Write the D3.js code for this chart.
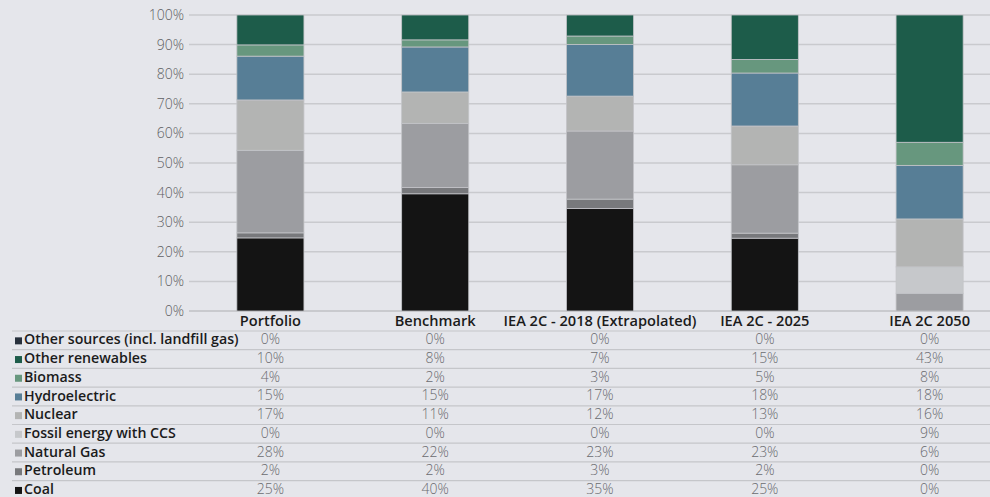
<!DOCTYPE html>
<html>
<head>
<meta charset="utf-8">
<script src="https://cdn.jsdelivr.net/npm/d3@7"></script>
<style>
  body { margin: 0; background: #e5e6eb; }
  svg { display: block; }
  .tick-label { font-family: "Open Sans", Lato, sans-serif; font-weight: 300; font-size: 14px; fill: #5e5f63; }
  .cat-label { font-family: "Open Sans", Lato, sans-serif; font-weight: 600; font-size: 14.6px; fill: #1b1b1b; }
  .row-label { font-family: "Open Sans", Lato, sans-serif; font-weight: 600; font-size: 14.2px; fill: #1b1b1b; }
  .cell { font-family: "Open Sans", Lato, sans-serif; font-weight: 300; font-size: 14px; fill: #6a6b6f; }
</style>
</head>
<body>
<div id="viz"></div>
<script>
var categories = ['Portfolio', 'Benchmark', 'IEA 2C - 2018 (Extrapolated)', 'IEA 2C - 2025', 'IEA 2C 2050'];

// series listed top of table first, stacked bottom-up in reverse
var seriesNames = ['Other sources (incl. landfill gas)', 'Other renewables', 'Biomass', 'Hydroelectric',
  'Nuclear', 'Fossil energy with CCS', 'Natural Gas', 'Petroleum', 'Coal'];

var seriesColors = ['#27303c', '#1d5c4a', '#67977e', '#577e96', '#b3b4b3', '#c6c8cb', '#9c9da1', '#78797c', '#141414'];

// shares in % per category
var otherSources   = [0, 0, 0, 0, 0];
var otherRenew     = [10.1, 8.4, 7.1, 15.0, 43.0];
var biomass        = [3.8, 2.4, 2.9, 4.6, 7.8];
var hydro          = [14.8, 15.2, 17.4, 17.9, 18.1];
var nuclear        = [17.0, 10.6, 11.8, 13.1, 16.2];
var fossilCCS      = [0, 0, 0, 0, 8.9];
var naturalGas     = [27.9, 21.7, 23.0, 23.1, 6.0];
var petroleum      = [1.7, 2.1, 3.2, 1.7, 0];
var coal           = [24.7, 39.6, 34.6, 24.6, 0];

var seriesValues = [otherSources, otherRenew, biomass, hydro, nuclear, fossilCCS, naturalGas, petroleum, coal];

var yTicks = [0, 10, 20, 30, 40, 50, 60, 70, 80, 90, 100];

var width = 990, height = 497;

var svg = d3.select('#viz').append('svg')
  .attr('width', width)
  .attr('height', height);

var x = d3.scaleBand()
  .domain(categories)
  .range([188, 1012])
  .paddingInner(0.593)
  .paddingOuter(0.2965);

var y = d3.scaleLinear()
  .domain([0, 100])
  .range([311, 15]);

// rows for stacking
var rows = categories.map(function(c, i){
  var r = { cat: c };
  seriesNames.forEach(function(s, j){ r[s] = seriesValues[j][i]; });
  return r;
});

var stack = d3.stack().keys(seriesNames.slice().reverse());
var layers = stack(rows);

// gridlines
svg.append('g')
  .selectAll('line')
  .data(yTicks)
  .enter().append('line')
  .attr('x1', 189).attr('x2', width)
  .attr('y1', function(d){ return y(d); })
  .attr('y2', function(d){ return y(d); })
  .attr('stroke', function(d){ return d === 0 ? '#bfc0c4' : '#c9cace'; })
  .attr('stroke-width', 1.5);

svg.append('g')
  .selectAll('text')
  .data(yTicks)
  .enter().append('text')
  .attr('class', 'tick-label')
  .attr('x', 184)
  .attr('y', function(d){ return y(d); })
  .attr('dy', '0.36em')
  .attr('text-anchor', 'end')
  .text(function(d){ return d + '%'; });

// bars
var colorOf = d3.scaleOrdinal().domain(seriesNames).range(seriesColors);

svg.append('g')
  .selectAll('g')
  .data(layers)
  .enter().append('g')
  .attr('fill', function(d){ return colorOf(d.key); })
  .selectAll('rect')
  .data(function(d){ return d; })
  .enter().append('rect')
  .attr('x', function(d){ return x(d.data.cat); })
  .attr('width', x.bandwidth())
  .attr('y', function(d){ return y(d[1]); })
  .attr('height', function(d){ return y(d[0]) - y(d[1]); })
  .attr('stroke', '#c3c4c8')
  .attr('stroke-width', function(d){ return d[1] > d[0] ? 0.8 : 0; });

// category labels
svg.append('g')
  .selectAll('text')
  .data(categories)
  .enter().append('text')
  .attr('class', 'cat-label')
  .attr('x', function(d){ return x(d) + x.bandwidth() / 2; })
  .attr('y', 326)
  .attr('text-anchor', 'middle')
  .text(function(d){ return d; });

// data table
var rowTop = 331, rowH = 18.7;

var tbl = svg.append('g');

tbl.selectAll('line')
  .data(seriesNames)
  .enter().append('line')
  .attr('x1', 12).attr('x2', width)
  .attr('y1', function(d, i){ return rowTop + i * rowH; })
  .attr('y2', function(d, i){ return rowTop + i * rowH; })
  .attr('stroke', '#c5c6ca')
  .attr('stroke-width', 1.2);

var tr = tbl.selectAll('g.row')
  .data(seriesNames)
  .enter().append('g')
  .attr('class', 'row')
  .attr('transform', function(d, i){ return 'translate(0,' + (rowTop + i * rowH + rowH / 2 - 1) + ')'; });

tr.append('rect')
  .attr('x', 15).attr('y', -2)
  .attr('width', 7).attr('height', 7)
  .attr('fill', function(d){ return colorOf(d); });

tr.append('text')
  .attr('class', 'row-label')
  .attr('x', 24)
  .attr('dy', '0.36em')
  .text(function(d){ return d; });

tr.selectAll('text.cell')
  .data(function(d, i){ return seriesValues[i]; })
  .enter().append('text')
  .attr('class', 'cell')
  .attr('x', function(d, i){ return x(categories[i]) + x.bandwidth() / 2; })
  .attr('dy', '0.36em')
  .attr('text-anchor', 'middle')
  .text(function(d){ return Math.round(d) + '%'; });
</script>
</body>
</html>
